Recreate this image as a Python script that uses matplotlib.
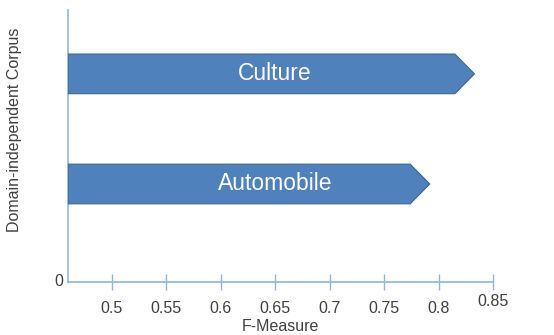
"""Barras tipo flecha: F-Measure por corpus independiente de dominio."""
import matplotlib.pyplot as plt
import numpy as np
from matplotlib.patches import Polygon
from matplotlib.transforms import ScaledTranslation

corpus = ["Automobile", "Culture"]
f_measure = [0.792, 0.833]
xticks = [0.5, 0.55, 0.6, 0.65, 0.7, 0.75, 0.8, 0.85]

AZUL = "#4F81BD"
BORDE = "#3A6595"
EJE = "#8EB4E3"
TEXTO = "#404040"

plt.rcParams["font.family"] = ["Liberation Sans", "DejaVu Sans"]

fig = plt.figure(figsize=(5.54, 3.35), dpi=100)
W, H = 554, 335
ax = fig.add_axes([68 / W, (H - 282) / H, (493 - 68) / W, (282 - 10) / H])

x0 = 0.46
ax.set_xlim(x0, 0.85)
ax.set_ylim(0.11, 2.58)

pos = np.arange(len(corpus)) + 1
alto = 0.36
punta = 0.018
for y, v, nombre in zip(pos, f_measure, corpus):
    verts = [(x0, y - alto / 2), (v - punta, y - alto / 2), (v, y),
             (v - punta, y + alto / 2), (x0, y + alto / 2)]
    ax.add_patch(Polygon(verts, closed=True, facecolor=AZUL, edgecolor=BORDE,
                         linewidth=0.8, zorder=3))
    ax.text(0.650, y, nombre, color="white", fontsize=16.5, ha="center",
            va="center", zorder=4)

ax.set_xticks(xticks)
ax.set_xticklabels([f"{t:g}" for t in xticks])
ax.tick_params(axis="x", direction="inout", length=12, width=1, color=EJE,
               labelsize=11.5, labelcolor=TEXTO, pad=8)
# la última etiqueta aparece algo más arriba en el original
ultima = ax.get_xticklabels()[-1]
ultima.set_transform(ultima.get_transform() + ScaledTranslation(0, 5 / 72, fig.dpi_scale_trans))

ax.set_yticks([])
for s in ["top", "right"]:
    ax.spines[s].set_visible(False)
for s in ["left", "bottom"]:
    ax.spines[s].set_color(EJE)
    ax.spines[s].set_linewidth(1.2)

ax.text(-0.012, 0, "0", transform=ax.transAxes, ha="right", va="center",
        fontsize=11.5, color=TEXTO)
ax.set_xlabel("F-Measure", fontsize=11.5, color=TEXTO, labelpad=2)
ax.set_ylabel("Domain-independent Corpus", fontsize=11.5, color=TEXTO)
ax.yaxis.set_label_coords(-0.108, 0.56)

fig.savefig("out.png", dpi=100)
